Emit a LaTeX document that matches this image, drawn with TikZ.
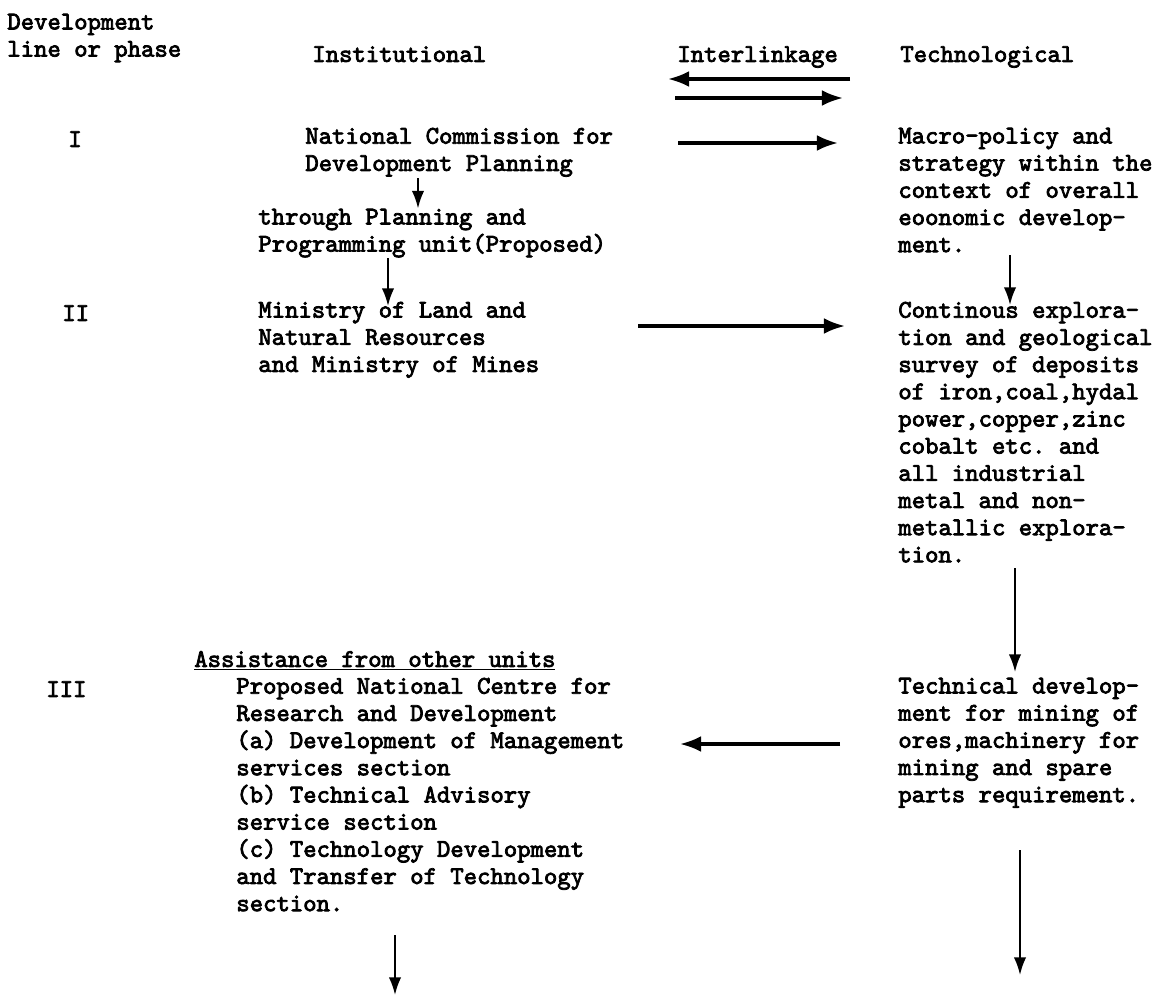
\documentclass[tikz,border=0pt]{standalone}
\usepackage{fontspec}
\setmonofont{lmmono10-regular.otf}[FakeBold=3]
\usetikzlibrary{arrows.meta}

\begin{document}
\begin{tikzpicture}[x=0.02cm,y=-0.02cm,
  txt/.style={anchor=north west,inner sep=0pt,align=left,
    font=\ttfamily\fontsize{14.5}{15.47}\selectfont,
    execute at begin node=\strut},
  link/.style={line width=1.8pt,-{Latex[length=12pt,width=9pt]}},
  down/.style={line width=1.1pt,-{Latex[length=10pt,width=7pt]}}]
\useasboundingbox (0,0) rectangle (1159,997);
%
\draw (7,13.5) node[txt] (hdrDev) {Development\\line or phase};
\draw (hdrDev.north west) ++ (305,29) node[txt] (hdrInst) {Institutional};
\draw (hdrInst.north west) ++ (365,0) node[txt] (hdrLink) {Interlinkage};
\draw (hdrLink.north west) ++ (223,0) node[txt] (hdrTech) {Technological};
%
\draw (hdrLink.north west) ++ (-9,36.5) coordinate (linkLa);
\draw (hdrLink.north west) ++ (173,36.5) coordinate (linkLb);
\path[draw,link] (linkLb) -- (linkLa);
\draw (hdrLink.north west) ++ (-2,55.5) coordinate (linkRa);
\draw (hdrLink.north west) ++ (166,55.5) coordinate (linkRb);
\path[draw,link] (linkRa) -- (linkRb);
%
\draw (hdrDev.north west) ++ (61,114) node[txt] (phI) {I};
\draw (hdrInst.north west) ++ (-7,85) node[txt] (natCom)
  {National Commission for\\Development Planning};
\draw (hdrTech.north west) ++ (-2,85) node[txt] (macro)
  {Macro-policy and\\strategy within the\\context of overall\\eoonomic develop-\\ment.};
\draw (natCom.north west) ++ (373,15.5) coordinate (arrIa);
\draw (macro.north west) ++ (-60,15.5) coordinate (arrIb);
\path[draw,link] (arrIa) -- (arrIb);
%
\draw (natCom.north west) ++ (-47,81) node[txt] (thrPlan)
  {through Planning and\\Programming unit(Proposed)};
\draw (natCom.north west) ++ (113,50.5) coordinate (natDown);
\draw (thrPlan.north west) ++ (160,0) coordinate (thrUp);
\path[draw,down] (natDown) -- (thrUp);
%
\draw (phI.north west) ++ (-6,174) node[txt] (phII) {II};
\draw (thrPlan.north west) ++ (0,93) node[txt] (minLand)
  {Ministry of Land and\\Natural Resources\\and Ministry of Mines};
\draw (macro.north west) ++ (0,174) node[txt] (explor)
  {Continous explora-\\tion and geological\\survey of deposits\\of iron,coal,hydal\\power,copper,zinc\\cobalt etc. and\\all industrial\\metal and non-\\metallic explora-\\tion.};
\draw (thrPlan.north west) ++ (130,49.5) coordinate (thrDown);
\draw (minLand.north west) ++ (130,4.5) coordinate (minUp);
\path[draw,down] (thrDown) -- (minUp);
\draw (macro.north west) ++ (112,127.5) coordinate (macroDown);
\draw (explor.north west) ++ (112,3.5) coordinate (explorUp);
\path[draw,down] (macroDown) -- (explorUp);
\draw (minLand.north west) ++ (380,24.5) coordinate (arrIIa);
\draw (explor.north west) ++ (-53,24.5) coordinate (arrIIb);
\path[draw,link] (arrIIa) -- (arrIIb);
%
\draw (minLand.north west) ++ (-64,346) node[txt] (assist)
  {\underline{Assistance from other units}};
\draw (phII.north west) ++ (-16,376) node[txt] (phIII) {III};
\draw (assist.north west) ++ (42,30) node[txt] (centre)
  {Proposed National Centre for\\Research and Development\\(a) Development of Management\\services section\\(b) Technical Advisory\\service section\\(c) Technology Development\\and Transfer of Technology\\section.};
\draw (explor.north west) ++ (0,376) node[txt] (techDev)
  {Technical develop-\\ment for mining of\\ores,machinery for\\mining and spare\\parts requirement.};
\draw (explor.north west) ++ (117,266.5) coordinate (explorDown);
\draw (techDev.north west) ++ (117,-5.5) coordinate (techUp);
\path[draw,down] (explorDown) -- (techUp);
\draw (techDev.north west) ++ (-58,66.5) coordinate (arrIIIa);
\draw (centre.north west) ++ (444,66.5) coordinate (arrIIIb);
\path[draw,link] (arrIIIa) -- (arrIIIb);
%
\draw (centre.north west) ++ (159,257.5) coordinate (centreDown);
\draw (centre.north west) ++ (159,317.5) coordinate (centreEnd);
\path[draw,down] (centreDown) -- (centreEnd);
\draw (techDev.north west) ++ (122,172.5) coordinate (techDown);
\draw (techDev.north west) ++ (122,297.5) coordinate (techEnd);
\path[draw,down] (techDown) -- (techEnd);
\end{tikzpicture}
\end{document}
